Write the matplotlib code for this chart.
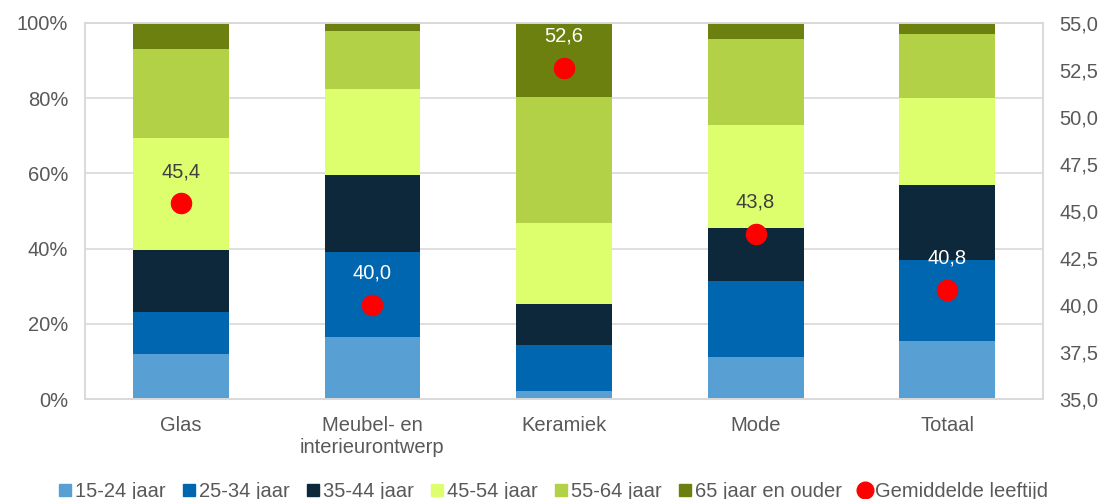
import matplotlib
matplotlib.use('Agg')
import matplotlib.pyplot as plt
from matplotlib.lines import Line2D
import numpy as np

plt.rcParams['font.family'] = ['Liberation Sans', 'DejaVu Sans']

# data
categories = ['Glas', 'Meubel- en\ninterieurontwerp', 'Keramiek', 'Mode', 'Totaal']
groups = ['15-24 jaar', '25-34 jaar', '35-44 jaar', '45-54 jaar', '55-64 jaar', '65 jaar en ouder']
share_15_24 = [11.9, 16.4, 2.1, 11.1, 15.4]
share_25_34 = [11.2, 22.6, 12.2, 20.2, 21.5]
share_35_44 = [16.4, 20.7, 10.9, 14.3, 19.9]
share_45_54 = [30.0, 22.8, 21.7, 27.3, 23.3]
share_55_64 = [23.6, 15.4, 33.5, 22.9, 17.0]
share_65_up = [6.9, 2.1, 19.6, 4.2, 2.9]
avg_age = [45.4, 40.0, 52.6, 43.8, 40.8]
avg_label_dark = [True, False, False, True, False]

colors = ['#589FD3', '#0066B0', '#0D273B', '#DDFF6E', '#B3D147', '#6B800F']
text_col = '#595959'
fs = 14.5

fig = plt.figure(figsize=(11.07, 4.99), dpi=100)
ax1 = fig.add_axes([0.0768, 0.2004, 0.8654, 0.7536])
ax2 = ax1.twinx()

x = np.arange(len(categories))
series = [share_15_24, share_25_34, share_35_44, share_45_54, share_55_64, share_65_up]
bottom = np.zeros(len(categories))
for vals, col, lab in zip(series, colors, groups):
    ax1.bar(x, vals, 0.5, bottom=bottom, color=col, label=lab, linewidth=0, zorder=2)
    bottom += np.array(vals)

ax1.set_xlim(-0.5, len(categories) - 0.5)
ax1.set_ylim(0, 100)
ax1.set_yticks(np.arange(0, 101, 20))
ax1.set_yticklabels([f'{v}%' for v in range(0, 101, 20)])
ax1.set_xticks(x)
ax1.set_xticklabels(categories, linespacing=1.25)
ax1.grid(axis='y', color='#D9D9D9', linewidth=1.2, zorder=0)
ax1.set_axisbelow(True)

ax2.set_ylim(35, 55)
ax2.set_yticks(np.arange(35, 55.01, 2.5))
ax2.set_yticklabels([f'{v:.1f}'.replace('.', ',') for v in np.arange(35, 55.01, 2.5)])
ax2.scatter(x, avg_age, s=210, color='#FF0000', zorder=5)
for xi, v, dark in zip(x, avg_age, avg_label_dark):
    ax2.annotate(f'{v:.1f}'.replace('.', ','), (xi, v), xytext=(0, 23),
                 textcoords='offset points', ha='center', va='center',
                 fontsize=fs, color='#404040' if dark else 'white')

for ax in (ax1, ax2):
    for sp in ax.spines.values():
        sp.set_color('#D9D9D9')
        sp.set_linewidth(1.2)
    ax.tick_params(length=0, labelsize=fs, colors=text_col)
ax1.tick_params(axis='y', pad=12)
ax1.tick_params(axis='x', pad=12)
ax2.tick_params(axis='y', pad=12)

handles = [Line2D([], [], marker='s', linestyle='none', markersize=9,
                  markerfacecolor=c, markeredgecolor=c) for c in colors]
handles.append(Line2D([], [], marker='o', linestyle='none', markersize=12,
                      markerfacecolor='#FF0000', markeredgecolor='#FF0000'))
labels = groups + ['Gemiddelde leeftijd']
fig.legend(handles, labels, loc='lower center', bbox_to_anchor=(0.5, -0.04), ncol=7,
           frameon=False, fontsize=fs, handlelength=0.6, handletextpad=0.2,
           columnspacing=0.85, labelcolor=text_col)

fig.savefig('out.png', dpi=100)
